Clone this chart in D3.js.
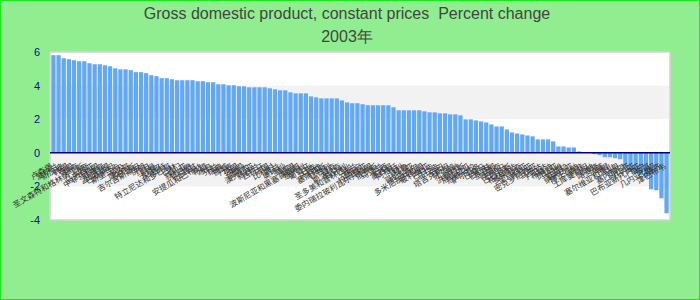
<!DOCTYPE html>
<html><head><meta charset="utf-8">
<script src="https://cdn.jsdelivr.net/npm/d3@7/dist/d3.min.js"></script>
<style>body{margin:0;background:#90EE90}svg{display:block}</style>
</head><body><svg id="c" width="700" height="300"></svg>
<script>
const countries = ["卢森堡","爱尔兰","新加坡","韩国","泰国","越南","圣文森特和格林纳丁斯","印度","马来西亚","中非共和国",
"菲律宾","孟加拉国","巴基斯坦","斯里兰卡","埃及","摩洛哥","突尼斯","吉尔吉斯斯坦","伊朗","约旦",
"阿曼","卡塔尔","科威特","特立尼达和多巴哥","巴林","也门","叙利亚","黎巴嫩","土耳其","安提瓜和巴布达",
"希腊","冰岛","芬兰","瑞典","挪威","丹麦","英国","美国","加拿大","澳大利亚",
"新西兰","西班牙","法国","比利时","荷兰","奥地利","瑞士","德国","波斯尼亚和黑塞哥维那","意大利",
"葡萄牙","日本","马耳他","塞浦路斯","以色列","捷克","斯洛伐克","匈牙利","圣多美和普林西比","波兰",
"立陶宛","拉脱维亚","委内瑞拉玻利瓦尔共和国","俄罗斯","乌克兰","巴西","墨西哥","阿根廷","智利","秘鲁",
"哥伦比亚","厄瓜多尔","多米尼加共和国","玻利维亚","巴拉圭","乌拉圭","古巴","塔吉克斯坦","牙买加","海地",
"洪都拉斯","尼加拉瓜","危地马拉","萨尔瓦多","巴拿马","伯利兹","圭亚那","苏里南","巴哈马","巴巴多斯",
"格林纳达","多米尼克","圣卢西亚","肯尼亚","密克罗尼西亚","乌干达","卢旺达","布隆迪","赞比亚","马拉维",
"安哥拉","纳米比亚","博茨瓦纳","南非","土库曼斯坦","加纳","喀麦隆","加蓬","乍得","塞尔维亚和黑山",
"马里","塞内加尔","冈比亚","几内亚","巴布亚新几内亚","贝宁","多哥","几内亚比绍","斐济","津巴布韦"];
const values = [5.81,5.81,5.63,5.57,5.51,5.45,5.45,5.33,5.27,5.27,
5.21,5.15,5.03,4.97,4.97,4.92,4.80,4.80,4.74,4.62,
4.56,4.44,4.44,4.38,4.32,4.32,4.32,4.32,4.26,4.26,
4.20,4.20,4.08,4.08,4.02,4.02,3.96,3.96,3.90,3.90,
3.90,3.90,3.84,3.78,3.72,3.72,3.60,3.54,3.54,3.54,
3.36,3.30,3.24,3.24,3.24,3.24,3.12,3.00,2.95,2.95,
2.89,2.83,2.83,2.83,2.83,2.83,2.71,2.53,2.53,2.53,
2.53,2.53,2.47,2.41,2.41,2.35,2.35,2.29,2.29,2.23,
1.99,1.99,1.93,1.87,1.81,1.69,1.57,1.57,1.39,1.21,
1.15,1.09,1.03,0.98,0.80,0.80,0.80,0.68,0.38,0.38,
0.32,0.32,0.08,0.00,0.00,-0.08,-0.14,-0.26,-0.26,-0.32,
-0.38,-0.90,-1.10,-1.20,-1.30,-1.50,-2.17,-2.23,-2.71,-3.60];
const yTicks = [-4,-2,0,2,4,6];
const bands = [[2,4],[-2,0]];
const titleLines = ["Gross domestic product, constant prices  Percent change","2003年"];

const W = 700, H = 300;
const svg = d3.select("#c");
svg.append("rect").attr("x",0.5).attr("y",0.5).attr("width",W-1).attr("height",H-1)
  .attr("fill","#90EE90").attr("stroke","#1ee61e").attr("stroke-width",1);

const x = d3.scaleBand().domain(d3.range(values.length)).range([50,670]).paddingInner(0.17).paddingOuter(0.25);
const y = d3.scaleLinear().domain([-4,6]).range([220,52]);

svg.append("rect").attr("x",50).attr("y",y(6)).attr("width",620).attr("height",y(-4)-y(6))
  .attr("fill","#fff").attr("stroke","#d3d3d3").attr("stroke-width",1.5);
svg.selectAll("rect.band").data(bands).join("rect").attr("class","band")
  .attr("x",51).attr("width",618).attr("y",d=>y(d[1])).attr("height",d=>y(d[0])-y(d[1])).attr("fill","#f2f2f2");

svg.selectAll("rect.bar").data(values).join("rect").attr("class","bar")
  .attr("x",(d,i)=>x(i)).attr("width",x.bandwidth())
  .attr("y",d=>y(Math.max(d,0))).attr("height",d=>Math.abs(y(d)-y(0)))
  .attr("fill","#63a9f1");

svg.append("line").attr("x1",50).attr("x2",670).attr("y1",y(0)).attr("y2",y(0))
  .attr("stroke","#000080").attr("stroke-width",1.5);

svg.selectAll("text.yt").data(yTicks).join("text").attr("class","yt")
  .attr("x",40).attr("y",d=>y(d)+4).attr("text-anchor","end")
  .style("font","11px 'Liberation Sans', Arial, sans-serif").attr("fill","#0b0b8c").text(d=>d);

svg.selectAll("text.xl").data(countries).join("text").attr("class","xl")
  .attr("transform",(d,i)=>`translate(${x(i)+x.bandwidth()/2},168) rotate(-30)`)
  .attr("text-anchor","end")
  .style("font","8px 'Noto Sans CJK SC', sans-serif").attr("fill","#333").text(d=>d);

svg.selectAll("text.title").data(titleLines).join("text").attr("class","title")
  .attr("x",347).attr("y",(d,i)=>19+i*23).attr("text-anchor","middle")
  .style("font","16px 'Liberation Sans', Arial, sans-serif").style("white-space","pre")
  .attr("fill","#444").text(d=>d);
</script></body></html>
